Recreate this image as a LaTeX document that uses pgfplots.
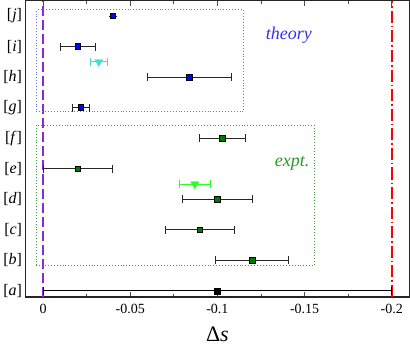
\documentclass[border=0pt]{standalone}
\usepackage{pgfplots}
\pgfplotsset{compat=1.18}
\usepackage{fontspec}
\setmainfont{Liberation Serif}
\newfontfamily\tnr{Liberation Serif}
\definecolor{thblue}{RGB}{50,50,240}
\definecolor{exgreen}{RGB}{40,150,40}
\definecolor{mkgreen}{RGB}{0,120,0}
\definecolor{cyantri}{RGB}{64,224,208}
\definecolor{limetri}{RGB}{40,255,40}
\definecolor{purp}{RGB}{140,40,220}
\definecolor{myred}{RGB}{255,0,0}
\pgfplotstableread{
x y xerr
-0.100 1 0.100
}\dataA
\pgfplotstableread{
x y xerr
-0.120 2 0.021
-0.090 3 0.020
-0.100 4 0.020
-0.020 5 0.020
-0.103 6 0.013
}\dataExpt
\pgfplotstableread{
x y xerr
-0.0218 7 0.005
-0.084 8 0.024
-0.020 9 0.010
-0.040 10 0.0
}\dataTheory
\begin{document}
\begin{tikzpicture}
\begin{axis}[
  scale only axis, width=382bp, height=295bp,
  x dir=reverse, xmin=-0.21, xmax=0.01, ymin=0.8, ymax=10.5,
  xtick={0,-0.05,-0.1,-0.15,-0.2},
  minor xtick={-0.025,-0.075,-0.125,-0.175},
  ytick={1,2,3,4,5,6,7,8,9,10},
  yticklabels={[\textit{a}],[\textit{b}],[\textit{c}],[\textit{d}],[\textit{e}],[\textit{f}],[\textit{g}],[\textit{h}],[\textit{i}],[\textit{j}]},
  tick align=inside,
  ytick style={draw=none},
  xtick style={black!70, line width=0.8pt},
  major tick length=5bp, minor tick length=3bp,
  axis line style={line width=1.5pt, black!85},
  xlabel={Δ\textit{s}},
  xlabel style={font=\tnr\fontsize{22}{24}\selectfont, yshift=-6bp},
  xticklabel style={font=\tnr\fontsize{14}{16}\selectfont, yshift=-4bp},
  yticklabel style={font=\tnr\fontsize{16}{18}\selectfont},
  /pgf/number format/assume math mode=true,
  /pgf/number format/fixed,
  clip=false,
]
\addplot[purp, line width=1.3pt, dash pattern=on 10bp off 4bp] coordinates {(0,0.8) (0,10.5)};
\addplot[myred, line width=1.4pt, dash pattern=on 12bp off 3bp on 1.5bp off 3bp] coordinates {(-0.2,0.8) (-0.2,10.5)};
\addplot[thblue!70, dotted, line width=0.9pt] coordinates {(0.0038,6.88) (-0.115,6.88) (-0.115,10.2) (0.0038,10.2) (0.0038,6.88)};
\addplot[exgreen!90, dotted, line width=0.9pt] coordinates {(0.0038,1.83) (-0.1556,1.83) (-0.1556,6.43) (0.0038,6.43) (0.0038,1.83)};
\addplot[only marks, mark=square*, mark size=2.8bp, mark options={fill=black, draw=black},
  error bars/.cd, x dir=both, x explicit, error bar style={line width=1pt, black}, error mark options={rotate=90, mark size=4bp, line width=1pt, black}]
  table[x=x, y=y, x error=xerr] {\dataA};
\addplot[only marks, mark=square*, mark size=2.8bp, mark options={fill=mkgreen, draw=black, line width=0.8pt},
  error bars/.cd, x dir=both, x explicit, error bar style={line width=1pt, black!85}, error mark options={rotate=90, mark size=4bp, line width=1pt, black!85}]
  table[x=x, y=y, x error=xerr] {\dataExpt};
\addplot[only marks, mark=square*, mark size=2.8bp, mark options={fill=blue, draw=black, line width=0.8pt},
  error bars/.cd, x dir=both, x explicit, error bar style={line width=1pt, black!85}, error mark options={rotate=90, mark size=4bp, line width=1pt, black!85}]
  table[x=x, y=y, x error=xerr] {\dataTheory};
\addplot[only marks, mark=triangle*, mark size=4.6bp, mark options={rotate=180, fill=limetri, draw=limetri},
  error bars/.cd, x dir=both, x explicit, error bar style={line width=1pt, limetri}, error mark options={rotate=90, mark size=4bp, line width=1pt, limetri}]
  coordinates {(-0.087,4.5) +- (0.009,0)};
\addplot[only marks, mark=triangle*, mark size=4.6bp, mark options={rotate=180, fill=cyantri, draw=cyantri},
  error bars/.cd, x dir=both, x explicit, error bar style={line width=1pt, cyantri}, error mark options={rotate=90, mark size=4bp, line width=1pt, cyantri}]
  coordinates {(-0.032,8.5) +- (0.005,0)};
\node[font=\tnr\fontsize{18}{20}\selectfont\itshape, text=thblue] at (axis cs:-0.141,9.38) {theory};
\node[font=\tnr\fontsize{18}{20}\selectfont\itshape, text=exgreen] at (axis cs:-0.1428,5.18) {expt.};
\end{axis}
\end{tikzpicture}
\end{document}
